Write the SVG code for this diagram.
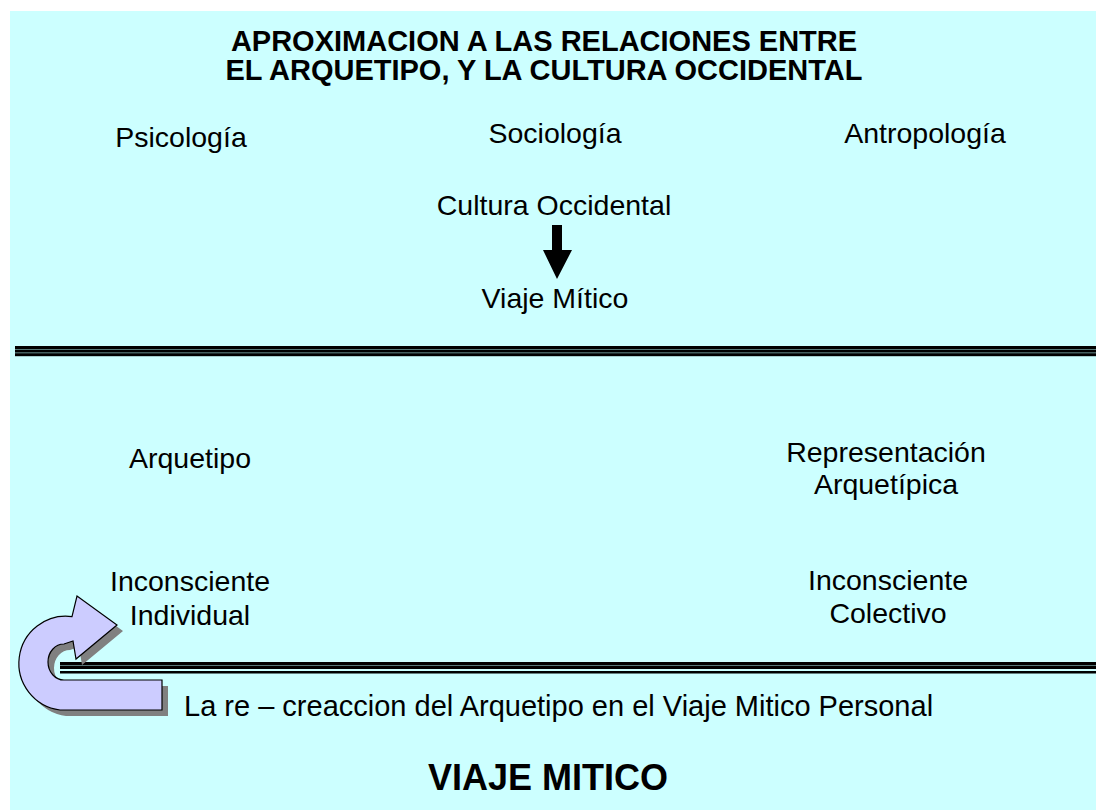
<svg xmlns="http://www.w3.org/2000/svg" width="1096" height="810" viewBox="0 0 1096 810">
<style>
.t{font-family:"Liberation Sans",Arial,sans-serif;font-size:28.5px;fill:#000;text-anchor:middle}
.b{font-family:"Liberation Sans",Arial,sans-serif;font-weight:bold;fill:#000;text-anchor:middle}
.blk{fill:#000}
.gry{fill:#557777}
</style>
<rect x="0" y="0" width="1096" height="810" fill="#fff"/>
<rect x="10" y="11" width="1086" height="799" fill="#ccffff"/>
<g id="title">
<text class="b" x="544" y="51" font-size="29">APROXIMACION A LAS RELACIONES ENTRE</text>
<text class="b" x="544" y="80" font-size="29">EL ARQUETIPO, Y LA CULTURA OCCIDENTAL</text>
</g>
<g id="connectors">
<g id="line1">
<rect class="gry" x="15" y="346" width="1081" height="10"/>
<rect class="blk" x="15" y="346" width="1081" height="3"/>
<rect class="blk" x="15" y="350" width="1081" height="2.2"/>
<rect class="blk" x="15" y="353.4" width="1081" height="2.8"/>
</g>
<g id="line2">
<rect class="gry" x="60" y="662" width="1036" height="7"/>
<rect class="blk" x="60" y="662" width="1036" height="3"/>
<rect class="blk" x="60" y="666" width="1036" height="3"/>
<rect class="blk" x="60" y="671" width="1036" height="2.5"/>
</g>
<polygon id="down-arrow" class="blk" points="552,225 562,225 562,250 572,250 557,279 543,250 552,250"/>
</g>
<g id="psicologia"><text class="t" x="181" y="147">Psicología</text></g>
<g id="sociologia"><text class="t" x="555" y="143">Sociología</text></g>
<g id="antropologia"><text class="t" x="925" y="143">Antropología</text></g>
<g id="cultura"><text class="t" x="554" y="215">Cultura Occidental</text></g>
<g id="viaje"><text class="t" x="555" y="308">Viaje Mítico</text></g>
<g id="arquetipo"><text class="t" x="190" y="468">Arquetipo</text></g>
<g id="representacion"><text class="t" x="886" y="462">Representación</text><text class="t" x="886" y="494">Arquetípica</text></g>
<g id="inconsciente-individual"><text class="t" x="190" y="591">Inconsciente</text><text class="t" x="190" y="625">Individual</text></g>
<g id="inconsciente-colectivo"><text class="t" x="888" y="590">Inconsciente</text><text class="t" x="888" y="623">Colectivo</text></g>
<g id="uturn">
<path transform="translate(6,6)" fill="#808080" d="M162,680 L64,680 A16,18 0 0 1 64,644 L73,641 L76,659 L117,625 L77,596 L72,616.6 A47,47 0 1 0 60,710 L162,710 Z"/>
<path fill="#ccccff" stroke="#000" stroke-width="1.2" d="M162,680 L64,680 A16,18 0 0 1 64,644 L73,641 L76,659 L117,625 L77,596 L72,616.6 A47,47 0 1 0 60,710 L162,710 Z"/>
</g>
<g id="caption"><text class="t" x="184" y="716" font-size="29" style="text-anchor:start;font-size:29px">La re – creaccion del Arquetipo en el Viaje Mitico Personal</text></g>
<g id="footer"><text class="b" x="548" y="790" font-size="36">VIAJE MITICO</text></g>
</svg>
